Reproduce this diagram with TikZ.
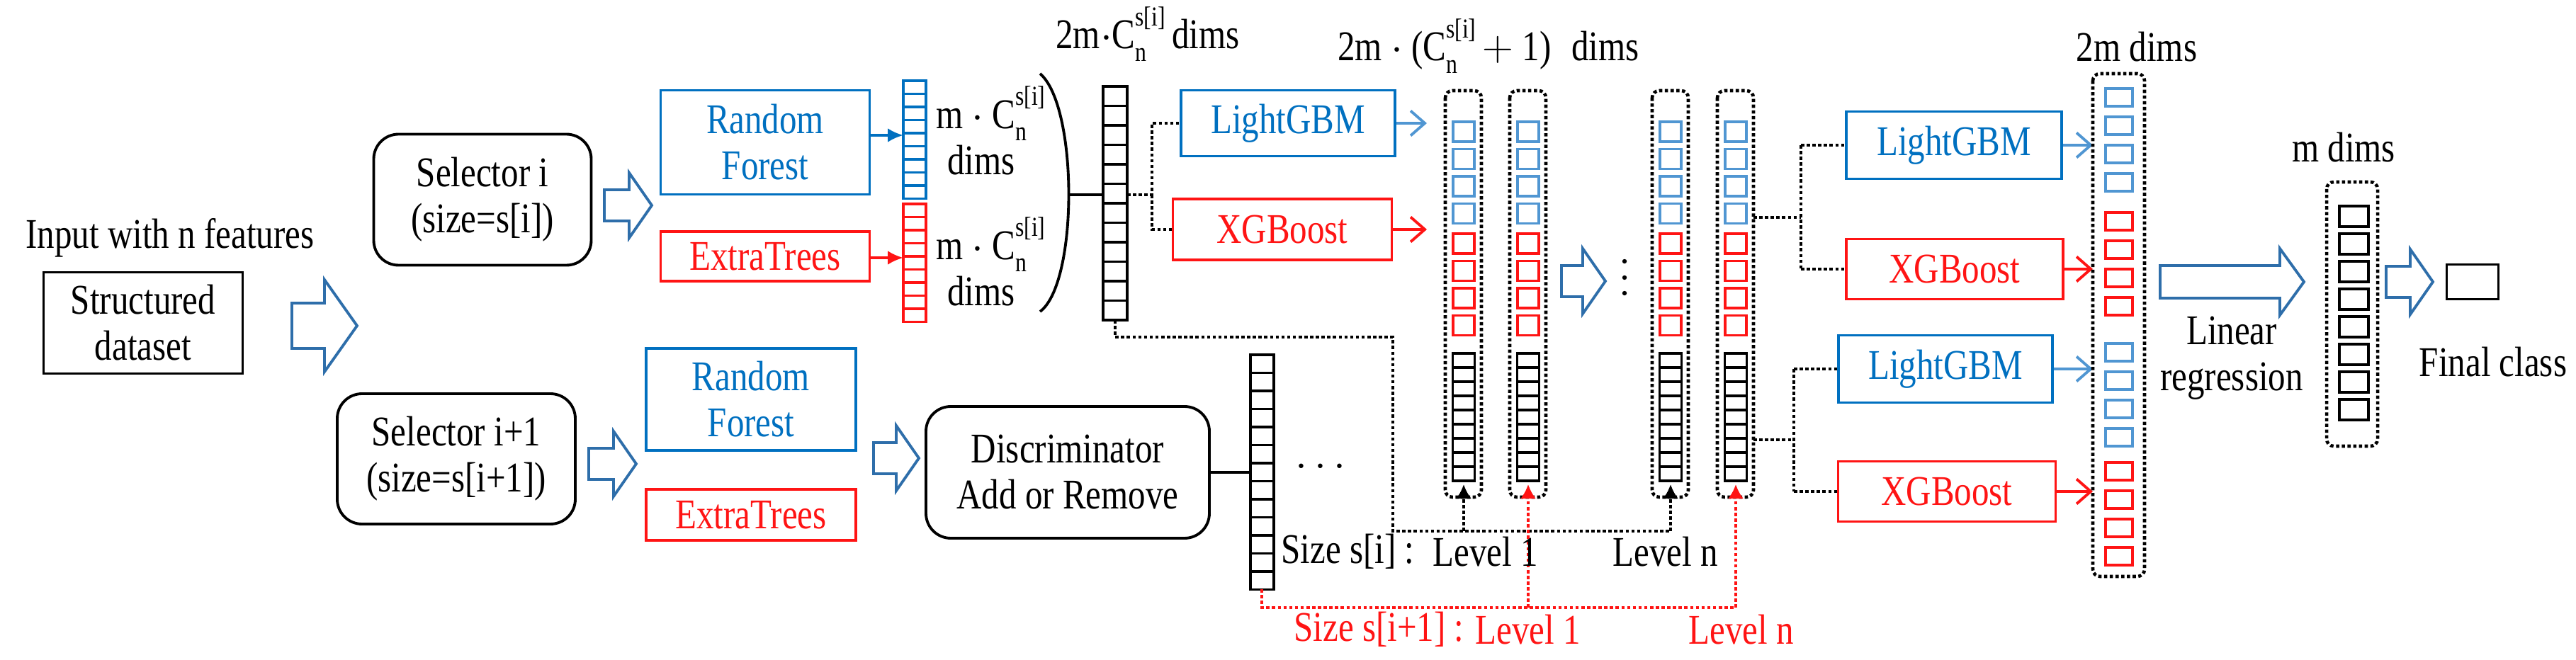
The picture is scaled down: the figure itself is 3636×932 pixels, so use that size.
\documentclass[tikz,border=0pt]{standalone}
\usepackage{fontspec}
\setmainfont{Liberation Serif}[FakeStretch=0.82]
\usetikzlibrary{arrows.meta}
\definecolor{myblue}{RGB}{0,112,192}
\definecolor{lblue}{RGB}{80,150,210}
\definecolor{myred}{RGB}{255,20,20}
\definecolor{arrblue}{RGB}{46,110,170}
\newcommand\Cn{C\rlap{\raisebox{0.55em}{\fontsize{11}{11}\selectfont s[i]}}\raisebox{-0.3em}{\fontsize{11}{11}\selectfont n}\hspace{0.6em}}
\newcommand\cellstack[7]{\foreach \k in {1,...,#6}{\draw[#7] (#1,{#2+(\k-1)*#5}) rectangle ++(#3,#4);}}
\newcommand\harrow[6]{\draw[arrblue,line width=1.1pt,line join=miter] (#1,#3-#4) -- (#2-#6,#3-#4) -- (#2-#6,#3-#5) -- (#2,#3) -- (#2-#6,#3+#5) -- (#2-#6,#3+#4) -- (#1,#3+#4) -- cycle;}
\begin{document}
\begin{tikzpicture}[x=0.1mm,y=-0.1mm,
  txt/.style={font=\fontsize{17}{18.5}\selectfont,inner sep=0pt,align=center},
  box/.style={txt,draw,line width=1.1pt},
  rbox/.style={box,rounded corners=3.5mm},
  bbox/.style={box,draw=myblue,text=myblue},
  redbox/.style={box,draw=myred,text=myred},
  dotl/.style={densely dotted,line width=1.3pt},
  blk/.style={draw=black,line width=1pt},
  bc/.style={draw=lblue,line width=1pt},
  rc/.style={draw=myred,line width=1pt},
  dbox/.style={dotl,rounded corners=1mm}]
\useasboundingbox (0,0) rectangle (3636,932);
% left part
\node[txt] (inp) at (240,336) {Input with n features};
\node[box,minimum width=28.1mm,minimum height=14.3mm] (data) at (202,456) {Structured\\dataset};
\harrow{412}{504}{460}{32}{65}{46}
\node[rbox,minimum width=30.7mm,minimum height=18.5mm] (sel1) at (681,282) {Selector i\\(size=s[i])};
\node[rbox,minimum width=33.6mm,minimum height=18.4mm] (sel2) at (644,648) {Selector i+1\\(size=s[i+1])};
\harrow{853}{920}{290}{22}{46}{32}
\harrow{831}{898}{655}{22}{46}{32}
\node[bbox,minimum width=29.5mm,minimum height=14.7mm] (rf1) at (1080,201) {Random\\Forest};
\node[redbox,minimum width=29.5mm,minimum height=7mm] (et1) at (1080,362) {ExtraTrees};
\node[bbox,minimum width=29.6mm,minimum height=14.4mm] (rf2) at (1060,564) {Random\\Forest};
\node[redbox,minimum width=29.6mm,minimum height=7.2mm] (et2) at (1060,727) {ExtraTrees};
\harrow{1233}{1297}{647}{22}{46}{32}
\node[rbox,minimum width=40mm,minimum height=18.6mm] (disc) at (1507,667) {Discriminator\\Add or Remove};
% RF / ET outputs
\cellstack{1275}{114}{32}{18.5}{18.5}{9}{draw=myblue,line width=1.1pt}
\cellstack{1275}{288}{32}{18.5}{18.5}{9}{draw=myred,line width=1.1pt}
\coordinate (bcol) at (1275,191);
\coordinate (rcol) at (1275,364);
\draw[myblue,line width=1.1pt,-{Latex[length=2.2mm,width=2mm]}] (rf1.east |- bcol) -- (bcol);
\draw[myred,line width=1.1pt,-{Latex[length=2.2mm,width=2mm]}] (et1.east |- rcol) -- (rcol);
\node[txt] (md1) at (1385,184) {m $\cdot$ \Cn\\dims};
\node[txt] (md2) at (1385,369) {m $\cdot$ \Cn\\dims};
\draw[line width=1.1pt] (1468,104) .. controls (1522,150) and (1522,400) .. (1468,440);
\coordinate (pm) at (1509,275);
\cellstack{1557}{122}{34}{27.5}{27.5}{12}{blk}
\draw[line width=1.1pt] (pm) -- (1557,275);
\node[txt] (t2m) at (1620,48) {2m$\cdot$\Cn dims};
% lower column
\cellstack{1765}{501}{33}{25.5}{25.5}{13}{blk}
\draw[line width=1.1pt] (disc.east) -- (1765,667);
\node[txt] (dots1) at (1864,660) {$\cdots$};
% LightGBM/XGBoost level 1
\node[bbox,minimum width=30.2mm,minimum height=9.3mm] (lg1) at (1818,174) {LightGBM};
\node[redbox,minimum width=30.9mm,minimum height=8.6mm] (xg1) at (1810,324) {XGBoost};
\draw[dotl] (1591,275) -- (1626,275) -- (1626,174) -- (lg1.west);
\draw[dotl] (1626,275) -- (1626,324) -- (xg1.west);
\draw[lblue,line width=1.1pt,-{Straight Barb[length=2mm,width=3.5mm]}] (lg1.east) -- (2014,174);
\draw[myred,line width=1.1pt,-{Straight Barb[length=2mm,width=3.5mm]}] (xg1.east) -- (2014,324);
\node[txt] (t2m1) at (2101,65) {2m $\cdot$ (\Cn $+$ 1)\; dims};
% level columns
\foreach \cx/\nm in {2066/c1,2157/c2,2358/c3,2450/c4}{
  \draw[dbox] (\cx-26,128) rectangle (\cx+25,702);
  \coordinate (\nm) at (\cx,684);
  \cellstack{\cx-15}{172}{30}{28}{38.5}{4}{bc}
  \cellstack{\cx-15}{330}{30}{28}{38.5}{4}{rc}
  \cellstack{\cx-15.5}{499}{31}{20}{20}{9}{blk}
}
\harrow{2204}{2266}{397}{22}{46}{32}
\foreach \yy in {369,392,414}{\fill (2293,\yy) circle (3.2);}
% level connectors
\draw[dotl] (1574,452) -- (1574,476) -- (1966,476) -- (1966,750) -- (2358,750);
\draw[dotl,-{Latex[length=2mm,width=2.2mm]}] (2066,750) -- (c1);
\draw[dotl,-{Latex[length=2mm,width=2.2mm]}] (2358,750) -- (c3);
\draw[dotl,myred] (1781,832) -- (1781,858) -- (2450,858);
\draw[dotl,myred,-{Latex[length=2mm,width=2.2mm]}] (2157,858) -- (c2);
\draw[dotl,myred,-{Latex[length=2mm,width=2.2mm]}] (2450,858) -- (c4);
\node[txt,anchor=west] (ssi) at (1808,779) {Size s[i] :};
\node[txt,anchor=west] (l1) at (2022,779) {Level 1};
\node[txt,anchor=west] (ln) at (2276,779) {Level n};
\node[txt,anchor=west,text=myred] (ssi1) at (1826,889) {Size s[i+1] :};
\node[txt,anchor=west,text=myred] (l1r) at (2082,889) {Level 1};
\node[txt,anchor=west,text=myred] (lnr) at (2383,889) {Level n};
% last level boxes
\node[bbox,minimum width=30.4mm,minimum height=9.5mm] (lg2) at (2758,205) {LightGBM};
\node[redbox,minimum width=30.6mm,minimum height=8.5mm] (xg2) at (2759,380) {XGBoost};
\node[bbox,minimum width=30.2mm,minimum height=9.5mm] (lg3) at (2746,521) {LightGBM};
\node[redbox,minimum width=30.7mm,minimum height=8.5mm] (xg3) at (2748,694) {XGBoost};
\draw[dotl] (2475,307) -- (2542,307);
\draw[dotl] (2542,205) -- (2542,380);
\draw[dotl] (2542,205) -- (lg2.west);
\draw[dotl] (2542,380) -- (xg2.west);
\draw[dotl] (2475,621) -- (2532,621);
\draw[dotl] (2532,521) -- (2532,694);
\draw[dotl] (2532,521) -- (lg3.west);
\draw[dotl] (2532,694) -- (xg3.west);
\foreach \src/\yy/\cl in {lg2/205/lblue,xg2/380/myred,lg3/521/lblue,xg3/694/myred}{
  \draw[\cl,line width=1.1pt,-{Straight Barb[length=2mm,width=3.5mm]}] (\src.east) -- (2954,\yy);}
% 2m column
\draw[dbox] (2954,104) rectangle (3027,814);
\cellstack{2972}{125}{38}{25}{40}{4}{bc}
\cellstack{2972}{300}{38}{25}{40}{4}{rc}
\cellstack{2972}{485}{38}{25}{40}{4}{bc}
\cellstack{2972}{653}{38}{25}{40}{4}{rc}
\node[txt] (t2md) at (3016,66) {2m dims};
\harrow{3049}{3252}{398}{23}{47}{34}
\node[txt] (lr) at (3150,506) {Linear\\regression};
% m column
\draw[dbox] (3284,257) rectangle (3356,630);
\cellstack{3302}{291}{41}{29}{39}{8}{draw=black,line width=1.3pt}
\node[txt] (tmd) at (3308,208) {m dims};
\harrow{3368}{3434}{398}{22}{46}{32}
\node[box,minimum width=7.3mm,minimum height=4.9mm] (fin) at (3490,398) {};
\node[txt] (fc) at (3519,511) {Final class};
\end{tikzpicture}
\end{document}
